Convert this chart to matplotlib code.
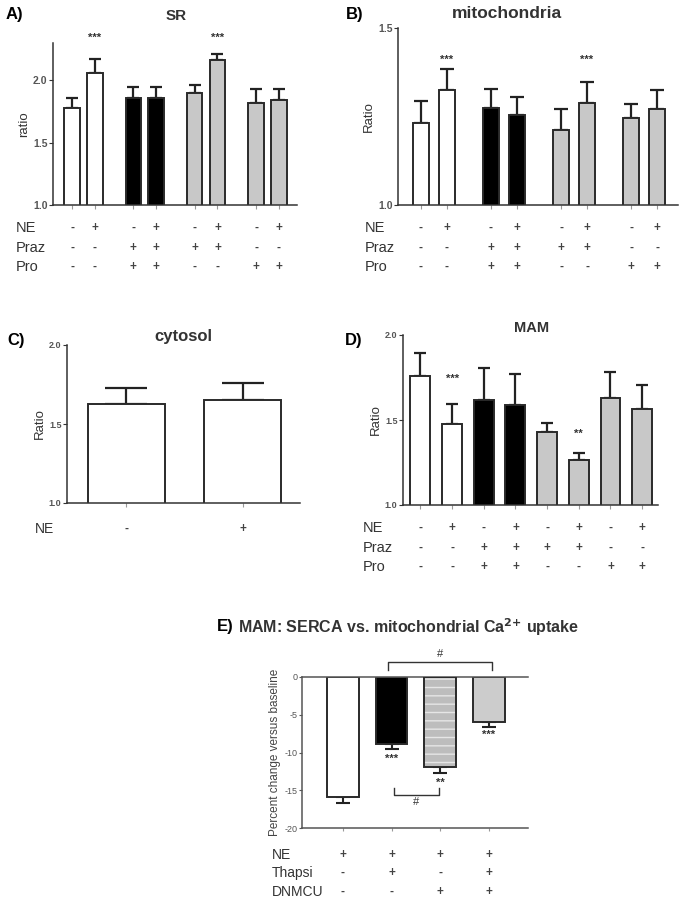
import matplotlib
matplotlib.use("Agg")
import matplotlib.pyplot as plt
from matplotlib.transforms import blended_transform_factory

plt.rcParams['font.family'] = ['Liberation Sans', 'DejaVu Sans']

# data
sr_mean = [1.78, 2.06, 1.86, 1.86, 1.90, 2.16, 1.82, 1.84]
sr_err = [0.08, 0.11, 0.09, 0.09, 0.06, 0.05, 0.11, 0.09]
mito_mean = [1.233, 1.325, 1.274, 1.254, 1.212, 1.288, 1.245, 1.271]
mito_err = [0.062, 0.060, 0.054, 0.051, 0.059, 0.060, 0.041, 0.053]
cyto_mean = [1.626, 1.655]
cyto_err = [0.099, 0.102]
mam_mean = [1.759, 1.476, 1.618, 1.586, 1.431, 1.265, 1.631, 1.563]
mam_err = [0.133, 0.116, 0.186, 0.185, 0.053, 0.043, 0.151, 0.141]
e_mean = [-15.9, -8.9, -11.9, -6.0]
e_err = [0.8, 0.7, 0.8, 0.6]

ne8 = ['-', '+', '-', '+', '-', '+', '-', '+']
praz8 = ['-', '-', '+', '+', '+', '+', '-', '-']
pro8 = ['-', '-', '+', '+', '-', '-', '+', '+']
ne_c = ['-', '+']
ne_e = ['+', '+', '+', '+']
thapsi_e = ['-', '+', '-', '+']
dnmcu_e = ['-', '-', '+', '+']

W, H = 691, 900
fig = plt.figure(figsize=(W / 100, H / 100), dpi=100)

GREY = '#c8c8c8'
EDGE = '#2a2a2a'
TXT = '#333333'
cols8 = ['white', 'white', 'black', 'black', GREY, GREY, GREY, GREY]


def px_axes(x0, x1, ytop, ybot):
    return fig.add_axes([x0 / W, 1 - ybot / H, (x1 - x0) / W, (ybot - ytop) / H])


def style(ax, ylim, yticks, ylabels, fs=7.5):
    ax.set_ylim(*ylim)
    ax.spines['top'].set_visible(False)
    ax.spines['right'].set_visible(False)
    ax.spines['left'].set_color('#333333')
    ax.spines['bottom'].set_color('#333333')
    ax.spines['left'].set_linewidth(1.1)
    ax.spines['bottom'].set_linewidth(1.1)
    ax.set_yticks(yticks)
    ax.set_yticklabels(ylabels, fontsize=fs, color='#555555', fontweight='bold')
    ax.tick_params(axis='y', length=3, width=0.8, pad=1, color='#333333')
    ax.tick_params(axis='x', length=3, width=0.8, color='#999999', labelbottom=False)


def bars(ax, x, mean, err, colors, width, cap, lw=1.4):
    ax.bar(x, mean, width=width, color=colors, edgecolor=EDGE, linewidth=lw, zorder=2)
    for xi, m, e in zip(x, mean, err):
        ax.errorbar(xi, m, yerr=[[0], [e]], fmt='none', ecolor='#222222',
                    elinewidth=1.6, capsize=cap, capthick=1.6, zorder=1)
    ax.set_xticks(x)


def rows(ax, x, labels, rowsigns, ys, label_x, fs=10.5):
    tr = blended_transform_factory(ax.transData, fig.transFigure)
    for lab, signs, y in zip(labels, rowsigns, ys):
        fig.text(label_x / W, 1 - y / H, lab, fontsize=fs, va='center', ha='left', color=TXT)
        for xi, s in zip(x, signs):
            ax.text(xi, 1 - y / H, s, transform=tr, ha='center', va='center',
                    fontsize=8.5, color='#444444', fontweight='bold')


x8 = [0, 1, 2.7, 3.7, 5.4, 6.4, 8.1, 9.1]

# A) SR
axA = px_axes(53, 297, 43, 205)
bars(axA, x8, sr_mean, sr_err, cols8, 0.68, 4.5)
axA.set_xlim(-0.84, 9.9)
style(axA, (1.0, 2.3), [1.0, 1.5, 2.0], ['1.0', '1.5', '2.0'])
axA.set_ylabel('ratio', fontsize=9.5, labelpad=2, color=TXT)
for i in (1, 5):
    axA.text(x8[i], 2.34, '***', ha='center', va='center', fontsize=8, fontweight='bold', color=TXT)
rows(axA, x8, ['NE', 'Praz', 'Pro'], [ne8, praz8, pro8], [228, 248, 267], 16)
fig.text(176 / W, 1 - 16 / H, 'SR', ha='center', va='center', fontsize=11, fontweight='bold', color=TXT)
fig.text(6 / W, 1 - 15 / H, 'A)', ha='left', va='center', fontsize=12, fontweight='bold')

# B) mitochondria
axB = px_axes(398, 678, 28, 205)
bars(axB, x8, mito_mean, mito_err, cols8, 0.62, 5)
axB.set_xlim(-0.87, 9.9)
style(axB, (1.0, 1.5), [1.0, 1.5], ['1.0', '1.5'])
axB.set_ylabel('Ratio', fontsize=9.5, labelpad=2, color=TXT)
for i in (1, 5):
    axB.text(x8[i], 1.41, '***', ha='center', va='center', fontsize=8, fontweight='bold', color=TXT)
rows(axB, x8, ['NE', 'Praz', 'Pro'], [ne8, praz8, pro8], [228, 248, 267], 365)
fig.text(507 / W, 1 - 13 / H, 'mitochondria', ha='center', va='center', fontsize=12.5,
         fontweight='bold', color=TXT)
fig.text(346 / W, 1 - 15 / H, 'B)', ha='left', va='center', fontsize=12, fontweight='bold')

# C) cytosol
axC = px_axes(67, 300, 345, 503)
bars(axC, [0, 1], cyto_mean, cyto_err, ['white', 'white'], 0.66, 15)
axC.set_xlim(-0.506, 1.49)
style(axC, (1.0, 2.0), [1.0, 1.5, 2.0], ['1.0', '1.5', '2.0'], fs=6.5)
axC.set_ylabel('Ratio', fontsize=9.5, labelpad=2, color=TXT)
rows(axC, [0, 1], ['NE'], [ne_c], [529], 35, fs=10)
fig.text(183 / W, 1 - 337 / H, 'cytosol', ha='center', va='center', fontsize=12,
         fontweight='bold', color=TXT)
fig.text(7 / W, 1 - 340 / H, 'C)', ha='left', va='center', fontsize=12, fontweight='bold')

# D) MAM
x8d = list(range(8))
axD = px_axes(403, 658, 335, 505)
bars(axD, x8d, mam_mean, mam_err, cols8, 0.63, 4.5)
axD.set_xlim(-0.55, 7.5)
style(axD, (1.0, 2.0), [1.0, 1.5, 2.0], ['1.0', '1.5', '2.0'], fs=6.5)
axD.set_ylabel('Ratio', fontsize=9.5, labelpad=2, color=TXT)
axD.text(x8d[1], 1.74, '***', ha='center', va='center', fontsize=8, fontweight='bold', color=TXT)
axD.text(x8d[5], 1.42, '**', ha='center', va='center', fontsize=8, fontweight='bold', color=TXT)
rows(axD, x8d, ['NE', 'Praz', 'Pro'], [ne8, praz8, pro8], [528, 548, 567], 363)
fig.text(532 / W, 1 - 328 / H, 'MAM', ha='center', va='center', fontsize=10.5,
         fontweight='bold', color=TXT)
fig.text(345 / W, 1 - 340 / H, 'D)', ha='left', va='center', fontsize=12, fontweight='bold')

# E) MAM: SERCA vs mitochondrial uptake
xe = [0, 1, 2, 3]
axE = px_axes(302, 528, 677, 828)
axE.bar(xe[0], e_mean[0], width=0.65, color='white', edgecolor=EDGE, linewidth=1.4, zorder=2)
axE.bar(xe[1], e_mean[1], width=0.65, color='black', edgecolor=EDGE, linewidth=1.4, zorder=2)
axE.bar(xe[2], e_mean[2], width=0.65, color='#bdbdbd', edgecolor='#e6e6e6', hatch='--',
        linewidth=0, zorder=2)
axE.bar(xe[2], e_mean[2], width=0.65, color='none', edgecolor=EDGE, linewidth=1.4, zorder=3)
axE.bar(xe[3], e_mean[3], width=0.65, color='#cccccc', edgecolor=EDGE, linewidth=1.4, zorder=2)
for xi, m, e in zip(xe, e_mean, e_err):
    axE.errorbar(xi, m, yerr=[[e], [0]], fmt='none', ecolor='#222222',
                 elinewidth=1.5, capsize=5, capthick=1.5, zorder=1)
axE.set_xticks(xe)
axE.set_xlim(-0.84, 3.8)
axE.set_ylim(-20, 0)
axE.spines['right'].set_visible(False)
for sp in ('top', 'left', 'bottom'):
    axE.spines[sp].set_color('#555555')
    axE.spines[sp].set_linewidth(1.1)
axE.set_yticks([0, -5, -10, -15, -20])
axE.set_yticklabels(['0', '-5', '-10', '-15', '-20'], fontsize=6.5, color='#555555')
axE.tick_params(axis='y', length=2.5, width=0.8, pad=1, color='#555555')
axE.tick_params(axis='x', length=2, width=0.8, color='#999999', labelbottom=False)
axE.set_ylabel('Percent change versus baseline', fontsize=8.5, labelpad=2, color='#444444')
axE.text(xe[1], -10.9, '***', ha='center', va='center', fontsize=8, fontweight='bold', color=TXT)
axE.text(xe[2], -14.0, '**', ha='center', va='center', fontsize=8, fontweight='bold', color=TXT)
axE.text(xe[3], -7.6, '***', ha='center', va='center', fontsize=8, fontweight='bold', color=TXT)
# brackets
axE.plot([0.92, 0.92, 3.06, 3.06], [0.9, 2.0, 2.0, 0.9], color='#333333', lw=1, clip_on=False)
axE.text(1.99, 3.0, '#', ha='center', va='center', fontsize=8, color=TXT, clip_on=False)
axE.plot([1.04, 1.04, 1.97, 1.97], [-14.7, -15.6, -15.6, -14.7], color='#333333', lw=1)
axE.text(1.5, -16.6, '#', ha='center', va='center', fontsize=8, color=TXT)
rows(axE, xe, ['NE', 'Thapsi', 'DNMCU'], [ne_e, thapsi_e, dnmcu_e], [855, 873, 892], 272, fs=10)
fig.text(217 / W, 1 - 627 / H, 'E)', ha='left', va='center', fontsize=12, fontweight='bold')
fig.text(238 / W, 1 - 627 / H, r'MAM: SERCA vs. mitochondrial Ca$^{\mathbf{2{+}}}$ uptake',
         ha='left', va='center', fontsize=11.5, fontweight='bold', color=TXT)

fig.savefig('out.png', dpi=100)
